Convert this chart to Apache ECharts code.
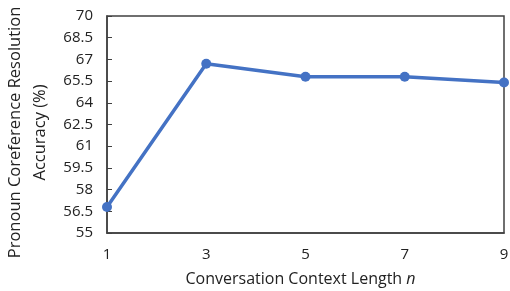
<!DOCTYPE html>
<html>
<head>
<meta charset="utf-8">
<script src="https://cdn.jsdelivr.net/npm/echarts@6/dist/echarts.min.js"></script>
<style>
  html, body { margin: 0; padding: 0; background: #fff; }
  #chart { width: 510px; height: 291px; }
</style>
</head>
<body>
<div id="chart"></div>
<script>
const contextLengths = ['1', '3', '5', '7', '9']
const accuracy = [56.8, 66.7, 65.8, 65.8, 65.4]
const yMin = 55, yMax = 70, yStep = 1.5

const font = '"Open Sans", "Liberation Sans", sans-serif'
const chart = echarts.init(document.getElementById('chart'))
chart.setOption({
  animation: false,
  grid: {
    left: 107, right: 6, top: 16, bottom: 58, outerBoundsMode: 'none', containLabel: false,
    show: true, borderColor: '#404040', borderWidth: 1.5
  },
  xAxis: {
    type: 'category', data: contextLengths, boundaryGap: false,
    axisLine: { lineStyle: { color: '#404040', width: 1.5 } },
    axisTick: { show: false },
    axisLabel: { color: '#222', fontSize: 15, fontFamily: font, margin: 14 },
    name: '{a|Conversation Context Length }{b|n}', nameLocation: 'middle', nameGap: 38,
    nameTextStyle: {
      padding: [0, 10, 0, 0],
      rich: {
        a: { fontSize: 16, fontFamily: font, color: '#222' },
        b: { fontSize: 16, fontFamily: font, fontStyle: 'italic', color: '#222' }
      }
    }
  },
  yAxis: {
    type: 'value', min: yMin, max: yMax, interval: yStep,
    axisLine: { show: true, lineStyle: { color: '#404040', width: 1.5 } },
    axisTick: { show: true, inside: true, length: 5, lineStyle: { color: '#404040' } },
    axisLabel: { color: '#222', fontSize: 15, fontFamily: font, margin: 14 },
    splitLine: { show: false },
    name: 'Pronoun Coreference Resolution\nAccuracy (%)', nameLocation: 'middle', nameGap: 52,
    nameTextStyle: { fontSize: 16.5, fontFamily: font, color: '#222', lineHeight: 25, padding: [0, 16, 0, 0] }
  },
  series: [{
    type: 'line', data: accuracy,
    symbol: 'circle', symbolSize: 10,
    lineStyle: { color: '#4472C4', width: 3.5 },
    itemStyle: { color: '#4472C4' }
  }]
})
</script>
</body>
</html>
